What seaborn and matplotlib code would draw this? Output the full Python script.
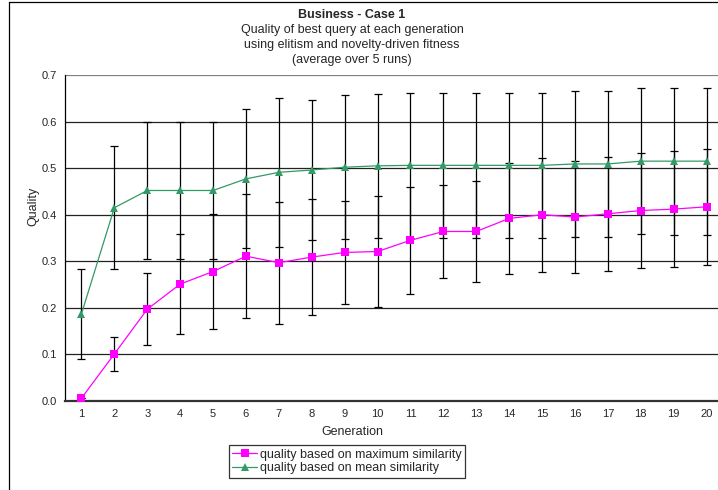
import matplotlib
matplotlib.use("Agg")
import matplotlib.pyplot as plt
from matplotlib.lines import Line2D
import numpy as np
import pandas as pd
import seaborn as sns

generations = list(range(1, 21))

max_sim_mean = [0.006, 0.101, 0.197, 0.251, 0.278, 0.311, 0.297, 0.309, 0.319, 0.321,
                0.345, 0.364, 0.364, 0.392, 0.400, 0.395, 0.402, 0.409, 0.412, 0.417]
max_sim_err = [0.000, 0.036, 0.077, 0.107, 0.124, 0.133, 0.131, 0.125, 0.110, 0.119,
               0.115, 0.100, 0.109, 0.120, 0.122, 0.120, 0.122, 0.123, 0.124, 0.125]

mean_sim_mean = [0.187, 0.415, 0.452, 0.452, 0.452, 0.477, 0.491, 0.496, 0.502, 0.505,
                 0.506, 0.506, 0.506, 0.506, 0.506, 0.509, 0.509, 0.515, 0.515, 0.515]
mean_sim_err = [0.096, 0.132, 0.148, 0.148, 0.148, 0.149, 0.160, 0.151, 0.154, 0.155,
                0.155, 0.155, 0.155, 0.155, 0.155, 0.156, 0.156, 0.157, 0.158, 0.158]

series_names = ["quality based on maximum similarity", "quality based on mean similarity"]
y_ticks = [0.0, 0.1, 0.2, 0.3, 0.4, 0.5, 0.6, 0.7]

df = pd.DataFrame({
    "Generation": generations * 2,
    "Quality": max_sim_mean + mean_sim_mean,
    "Series": [series_names[0]] * 20 + [series_names[1]] * 20,
})

sns.set_style("white")
plt.rcParams["font.family"] = ["Liberation Sans", "DejaVu Sans"]

fig = plt.figure(figsize=(7.18, 4.90), dpi=100)
ax = fig.add_axes([65 / 718, 89 / 490, 658 / 718, 326 / 490])

colors = {series_names[0]: "#FF00FF", series_names[1]: "#339966"}

# horizontal gridlines
for t in y_ticks[1:]:
    ax.axhline(t, color="#222222" if t < 0.7 else "#808080", lw=0.9, zorder=1)

# error bars (black, capped)
ax.errorbar(generations, mean_sim_mean, yerr=mean_sim_err, fmt="none",
            ecolor="black", elinewidth=0.9, capsize=3, capthick=0.9, zorder=2)
ax.errorbar(generations, max_sim_mean, yerr=max_sim_err, fmt="none",
            ecolor="black", elinewidth=0.9, capsize=3, capthick=0.9, zorder=2)

sns.lineplot(data=df, x="Generation", y="Quality", hue="Series", style="Series",
             palette=colors, markers={series_names[0]: "s", series_names[1]: "^"},
             dashes=False, markersize=5.5, linewidth=0.9, markeredgewidth=0,
             ax=ax, legend=False, zorder=3)

ax.set_xlim(0.5, 20.5)
ax.set_ylim(0, 0.7)
ax.set_yticks(y_ticks)
ax.set_yticklabels([f"{t:.1f}" for t in y_ticks], fontsize=8)
ax.set_xticks(generations)
ax.set_xticklabels([str(g) for g in generations], fontsize=8)
ax.set_xticks(np.arange(0.5, 20.6, 1), minor=True)
ax.tick_params(axis="x", which="major", length=0, pad=6)
ax.tick_params(axis="x", which="minor", length=4, width=0.9, direction="out", color="black")
ax.tick_params(axis="y", which="major", length=4, width=0.9, direction="out", color="black", pad=2)
ax.set_xlabel("")
ax.set_ylabel("")

for side in ["top", "right"]:
    ax.spines[side].set_visible(False)
ax.spines["left"].set_color("black")
ax.spines["left"].set_linewidth(0.9)
ax.spines["bottom"].set_color("#333333")
ax.spines["bottom"].set_linewidth(1.6)

# axis titles
fig.text(352 / 718, 1 - 432 / 490, "Generation", ha="center", va="center", fontsize=9)
fig.text(33 / 718, 1 - 206 / 490, "Quality", ha="center", va="center", fontsize=9, rotation=90)

# chart titles
fig.text(352 / 718, 1 - 15 / 490, "Business - Case 1", ha="center", va="center",
         fontsize=9, fontweight="bold")
for i, line in enumerate(["Quality of best query at each generation",
                          "using elitism and novelty-driven fitness",
                          "(average over 5 runs)"]):
    fig.text(352 / 718, 1 - (30 + 15 * i) / 490, line, ha="center", va="center", fontsize=9)

# legend
handles = [
    Line2D([], [], color=colors[series_names[0]], marker="s", markersize=5.5,
           markeredgewidth=0, lw=0.9),
    Line2D([], [], color=colors[series_names[1]], marker="^", markersize=5.5,
           markeredgewidth=0, lw=0.9),
]
leg = fig.legend(handles, series_names, loc="center", bbox_to_anchor=(347 / 718, 1 - 461.5 / 490),
                 fontsize=9, frameon=True, fancybox=False, edgecolor="black",
                 handlelength=2.0, handletextpad=0.2, borderpad=0.25, labelspacing=0.15,
                 borderaxespad=0)
leg.get_frame().set_linewidth(0.9)

# outer chart border
fig.add_artist(Line2D([8.5 / 718, 8.5 / 718], [0, 1 - 2.5 / 490], transform=fig.transFigure,
                      color="black", lw=0.9))
fig.add_artist(Line2D([8.5 / 718, 1], [1 - 2.5 / 490, 1 - 2.5 / 490], transform=fig.transFigure,
                      color="black", lw=0.9))

fig.savefig("out.png", dpi=100)
